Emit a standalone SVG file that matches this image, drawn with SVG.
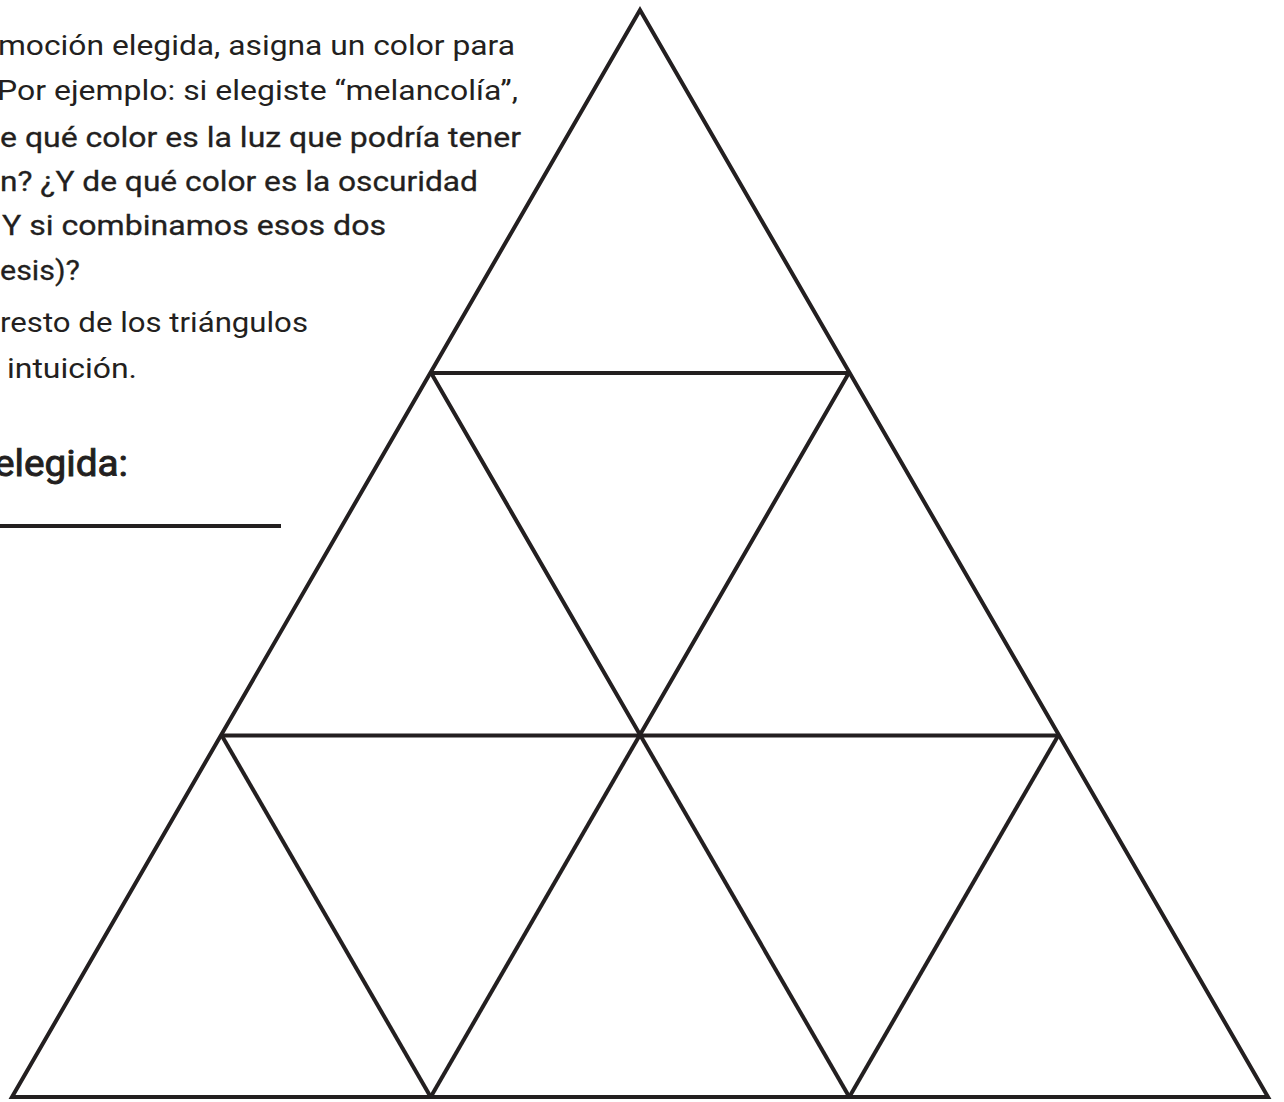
<svg xmlns="http://www.w3.org/2000/svg" width="1284" height="1102" viewBox="0 0 1284 1102">
<style>
.t{font-family:Roboto,"Liberation Sans",sans-serif;font-size:28.5px;fill:#231f20}
.m{stroke:#231f20;stroke-width:0.3}
.h{font-family:Roboto,"Liberation Sans",sans-serif;font-size:37px;font-weight:400;fill:#231f20;stroke:#231f20;stroke-width:0.9}
.ln{stroke:#231f20;stroke-width:4;fill:none;stroke-linejoin:miter;stroke-linecap:butt}
</style>
<rect width="1284" height="1102" fill="#fff"/>
<g id="instructions">
<text class="t" x="-2" y="55" textLength="517" lengthAdjust="spacingAndGlyphs">moción elegida, asigna un color para</text>
<text class="t" x="-3" y="100" textLength="521" lengthAdjust="spacingAndGlyphs">Por ejemplo: si elegiste “melancolía”,</text>
<text class="t m" x="0" y="147" textLength="521" lengthAdjust="spacingAndGlyphs">e qué color es la luz que podría tener</text>
<text class="t m" x="0" y="191" textLength="478" lengthAdjust="spacingAndGlyphs">n? ¿Y de qué color es la oscuridad</text>
<text class="t m" x="2" y="235" textLength="384" lengthAdjust="spacingAndGlyphs">Y si combinamos esos dos</text>
<text class="t m" x="0" y="280" textLength="80" lengthAdjust="spacingAndGlyphs">esis)?</text>
<text class="t" x="0" y="332" textLength="308" lengthAdjust="spacingAndGlyphs">resto de los triángulos</text>
<text class="t" x="7" y="378" textLength="130" lengthAdjust="spacingAndGlyphs">intuición.</text>
</g>
<g id="emotion-label">
<text class="h" x="-6" y="476" textLength="134" lengthAdjust="spacingAndGlyphs">elegida:</text>
<line class="ln" x1="0" y1="526" x2="281" y2="526"/>
</g>
<g id="triangle">
<polygon class="ln" points="640,10 1268,1097 12,1097"/>
<line class="ln" x1="430.7" y1="373" x2="849.3" y2="373"/>
<line class="ln" x1="221.3" y1="735.5" x2="1058.7" y2="735.5"/>
<polyline class="ln" points="430.7,372.3 640,734.7 849.3,372.3"/>
<line class="ln" x1="221.3" y1="734.7" x2="430.7" y2="1097"/>
<line class="ln" x1="640" y1="734.7" x2="430.7" y2="1097" stroke-width="6"/>
<line class="ln" x1="640" y1="734.7" x2="849.3" y2="1097"/>
<line class="ln" x1="1058.7" y1="734.7" x2="849.3" y2="1097"/>
</g>
</svg>
